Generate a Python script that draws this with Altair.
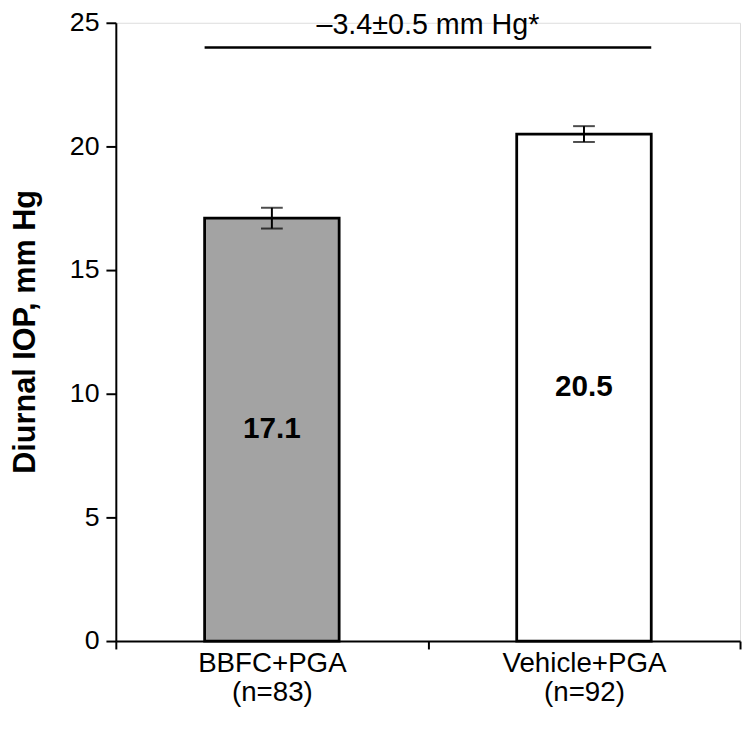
import altair as alt
import pandas as pd

categories = ["BBFC+PGA", "Vehicle+PGA"]
sample_sizes = ["(n=83)", "(n=92)"]
means = [17.1, 20.5]
sem = [0.42, 0.32]
value_labels = ["17.1", "20.5"]
fills = ["#a3a3a3", "#ffffff"]
diff_text = "–3.4±0.5 mm Hg*"
diff_line_y = 24.0
diff_text_y = 25.0

FONT = "Liberation Sans"

df = pd.DataFrame({
    "cat": [f"{c}|{n}" for c, n in zip(categories, sample_sizes)],
    "mean": means,
    "lo": [m - s for m, s in zip(means, sem)],
    "hi": [m + s for m, s in zip(means, sem)],
    "half": [m / 2 for m in means],
    "label": value_labels,
})
cat_order = list(df["cat"])

x_enc = alt.X(
    "cat:N",
    sort=cat_order,
    scale=alt.Scale(domain=cat_order, paddingInner=0, paddingOuter=0),
    axis=alt.Axis(
        title=None,
        labelExpr="split(datum.label, '|')",
        labelAngle=0,
        labelFont=FONT,
        labelFontSize=28,
        labelColor="black",
        labelLineHeight=29,
        labelPadding=1,
        labelBaseline="top",
        tickBand="extent",
        tickSize=8,
        tickColor="black",
        tickWidth=2,
        domainColor="black",
        domainWidth=2,
    ),
)

y_scale = alt.Scale(domain=[0, 25], nice=False)
y_axis = alt.Axis(
    title="Diurnal IOP, mm Hg",
    values=[0, 5, 10, 15, 20, 25],
    grid=False,
    labelFont=FONT,
    labelFontSize=27,
    labelColor="black",
    labelPadding=7,
    tickSize=10,
    tickColor="black",
    tickWidth=2,
    domainColor="black",
    domainWidth=2,
    titleFont=FONT,
    titleFontSize=31,
    titleFontWeight="bold",
    titleColor="black",
    titleAngle=-90,
    titleX=-91,
    titleY=312,
    titleAlign="center",
    titleBaseline="middle",
)

base = alt.Chart(df)

bars = base.mark_bar(size=136, stroke="black", strokeWidth=2.8).encode(
    x=x_enc,
    y=alt.Y("mean:Q", scale=y_scale, axis=y_axis),
    fill=alt.Fill("cat:N", scale=alt.Scale(domain=cat_order, range=fills), legend=None),
)

err = base.mark_rule(color="black", strokeWidth=2).encode(
    x=alt.X("cat:N", sort=cat_order),
    y=alt.Y("lo:Q", scale=y_scale),
    y2="hi:Q",
)
cap_lo = base.mark_tick(color="black", size=22, thickness=2).encode(
    x=alt.X("cat:N", sort=cat_order), y=alt.Y("lo:Q", scale=y_scale)
)
cap_hi = base.mark_tick(color="black", size=22, thickness=2).encode(
    x=alt.X("cat:N", sort=cat_order), y=alt.Y("hi:Q", scale=y_scale)
)

labels = base.mark_text(font=FONT, fontSize=30, fontWeight="bold", color="black").encode(
    x=alt.X("cat:N", sort=cat_order),
    y=alt.Y("half:Q", scale=y_scale),
    text="label:N",
)

ann_df = pd.DataFrame({
    "c1": [cat_order[0]],
    "c2": [cat_order[1]],
    "ly": [diff_line_y],
    "ty": [diff_text_y],
    "t": [diff_text],
})
ann = alt.Chart(ann_df)
diff_line = ann.mark_rule(color="black", strokeWidth=2.5, xOffset=-68, x2Offset=68).encode(
    x=alt.X("c1:N", sort=cat_order),
    x2="c2:N",
    y=alt.Y("ly:Q", scale=y_scale),
)
diff_label = ann.mark_text(font=FONT, fontSize=29, color="black", baseline="middle", dy=2).encode(
    x=alt.X("c1:N", sort=cat_order, bandPosition=1),
    y=alt.Y("ty:Q", scale=y_scale),
    text="t:N",
)

chart = alt.layer(bars, err, cap_lo, cap_hi, labels, diff_line, diff_label).properties(
    width=631,
    height=625,
    autosize=alt.AutoSizeParams(type="none"),
    padding={"left": 109, "top": 11, "right": 3, "bottom": 87},
).configure_view(stroke=None).configure(background="white")

chart.save("out.html", embed_options={"renderer": "svg", "actions": False})
